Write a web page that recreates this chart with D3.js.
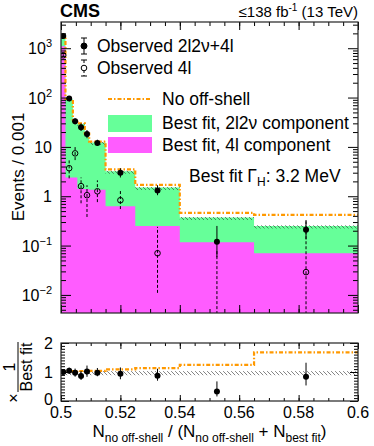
<!DOCTYPE html>
<html>
<head>
<meta charset="utf-8">
<script src="https://cdn.jsdelivr.net/npm/d3@7"></script>
<style>
  body { margin: 0; background: #fff; }
  svg text { font-family: "Liberation Sans", Arial, Helvetica, sans-serif; fill: #000; }
</style>
</head>
<body>
<svg id="chart" width="374" height="446"></svg>
<script>
// bin edges of N_no off-shell / (N_no off-shell + N_best fit)
const binEdges = [0.5, 0.5015, 0.504, 0.5055, 0.508, 0.5095, 0.515, 0.525, 0.54, 0.565, 0.6];

// stacked best fit (2l2v + 4l) and the 4l component alone
const bestFitTotal = [1760, 92, 34, 29, 18, 12.3, 3.2, 1.5, 0.37, 0.25];
const bestFit4l = [1100, 2.4, 2.4, 1.4, 1.4, 1.35, 0.63, 0.25, 0.117, 0.07];
// no off-shell hypothesis
const noOffShell = [1780, 94, 35, 30, 18.6, 12.8, 3.5, 1.7, 0.46, 0.42];
// relative uncertainty band on the best fit
const bandLo = 0.89, bandHi = 1.03;

// observed 2l2v+4l
const obsAll = [1760, 96, 33, 25, 18.3, 12, 3.0, 1.3, 0.12, 0.21];
const obsAllLo = [1700, 87, 28.5, 21, 15, 10.5, 2.4, 1.05, 0.058, 0.134];
const obsAllHi = [1830, 106, 38, 30, 22, 14, 3.7, 1.67, 0.25, 0.33];
// observed 4l
const obs4l = [720, 3.7, 7.4, 1.6, 1.05, 1.26, 0.83, 0.07, 0.0005, 0.029];
const obs4lLo = [660, 2.3, 5.4, 0.72, 0.38, 0.76, 0.55, 0.011, 0.0005, 0.001];
const obs4lHi = [790, 5.8, 10.3, 2.4, 1.67, 2.1, 1.3, 0.24, 0.08, 0.31];

const xMajor = [0.5, 0.52, 0.54, 0.56, 0.58, 0.6];
const yDecades = [0.01, 0.1, 1, 10, 100, 1000];
const ratioTicks = [0, 1, 2];

const green = "#66ff99", magenta = "#ff5cff", orange = "#ff9900";

const svg = d3.select("#chart");
const x = d3.scaleLinear().domain([0.5, 0.6]).range([61, 358]);
const y = d3.scaleLog().domain([0.0043, 3400]).range([313, 22]);
const yr = d3.scaleLinear().domain([0, 2]).range([401, 343]);

const centers = binEdges.slice(0, -1).map((e, i) => (e + binEdges[i + 1]) / 2);
const steps = vals => binEdges.map((e, i) => [e, vals[Math.min(i, vals.length - 1)]]);

const defs = svg.append("defs");
defs.append("clipPath").attr("id", "clipMain")
  .append("rect").attr("x", 61).attr("y", 22).attr("width", 297).attr("height", 291);
defs.append("clipPath").attr("id", "clipRatio")
  .append("rect").attr("x", 61).attr("y", 343).attr("width", 297).attr("height", 58);
const pat = defs.append("pattern").attr("id", "hatch")
  .attr("patternUnits", "userSpaceOnUse").attr("width", 4).attr("height", 4);
pat.append("path").attr("d", "M0,0L4,4M-1,3L1,5M3,-1L5,1")
  .attr("stroke", "#333").attr("stroke-width", 0.6);

// ---------- main panel ----------
const main = svg.append("g").attr("clip-path", "url(#clipMain)");

const stepArea = d3.area().curve(d3.curveStepAfter)
  .x(d => x(d[0])).y0(313).y1(d => y(d[1]));

main.append("path").datum(steps(bestFitTotal)).attr("d", stepArea).attr("fill", green);
main.append("path").datum(steps(bestFit4l)).attr("d", stepArea).attr("fill", magenta);

const bandArea = d3.area().curve(d3.curveStepAfter)
  .x(d => x(d[0])).y0(d => y(d[1] * bandLo)).y1(d => y(d[1] * bandHi));
main.append("path").datum(steps(bestFitTotal)).attr("d", bandArea).attr("fill", "url(#hatch)");

const stepLine = d3.line().curve(d3.curveStepAfter).x(d => x(d[0])).y(d => y(d[1]));
main.append("path").datum(steps(noOffShell)).attr("d", stepLine)
  .attr("fill", "none").attr("stroke", orange).attr("stroke-width", 2.2)
  .attr("stroke-dasharray", "4,2,1.5,2");

// observed 4l (open markers, dashed bars)
main.selectAll(".e4l").data(centers).enter().append("line")
  .attr("x1", d => x(d)).attr("x2", d => x(d))
  .attr("y1", (d, i) => y(obs4lLo[i])).attr("y2", (d, i) => y(obs4lHi[i]))
  .attr("stroke", "#000").attr("stroke-width", 1).attr("stroke-dasharray", "3,2");
main.selectAll(".p4l").data(centers).enter().append("circle")
  .attr("cx", d => x(d)).attr("cy", (d, i) => y(obs4l[i])).attr("r", 2.8)
  .attr("fill", "none").attr("stroke", "#000").attr("stroke-width", 1);

// observed 2l2v+4l
main.selectAll(".eall").data(centers).enter().append("line")
  .attr("x1", d => x(d)).attr("x2", d => x(d))
  .attr("y1", (d, i) => y(obsAllLo[i])).attr("y2", (d, i) => y(obsAllHi[i]))
  .attr("stroke", "#000").attr("stroke-width", 1);
main.selectAll(".pall").data(centers).enter().append("circle")
  .attr("cx", d => x(d)).attr("cy", (d, i) => y(obsAll[i])).attr("r", 3)
  .attr("fill", "#000");

// ---------- ratio panel ----------
const ratio = svg.append("g").attr("clip-path", "url(#clipRatio)");
ratio.append("rect").attr("x", x(0.5)).attr("width", x(0.6) - x(0.5))
  .attr("y", yr(bandHi)).attr("height", yr(bandLo) - yr(bandHi)).attr("fill", "url(#hatch)");

const ratioLine = d3.line().curve(d3.curveStepAfter).x(d => x(d[0])).y(d => yr(d[1]));
ratio.append("path").datum(steps(noOffShell.map((v, i) => v / bestFitTotal[i])))
  .attr("d", ratioLine).attr("fill", "none").attr("stroke", orange)
  .attr("stroke-width", 2.2).attr("stroke-dasharray", "4,2,1.5,2");

ratio.selectAll(".er").data(centers).enter().append("line")
  .attr("x1", d => x(d)).attr("x2", d => x(d))
  .attr("y1", (d, i) => yr(obsAllLo[i] / bestFitTotal[i]))
  .attr("y2", (d, i) => yr(obsAllHi[i] / bestFitTotal[i]))
  .attr("stroke", "#000").attr("stroke-width", 1);
ratio.selectAll(".pr").data(centers).enter().append("circle")
  .attr("cx", d => x(d)).attr("cy", (d, i) => yr(obsAll[i] / bestFitTotal[i])).attr("r", 3)
  .attr("fill", "#000");

// ---------- axes ----------
function ticks(axis, tx, ty) {
  const g = svg.append("g").attr("transform", `translate(${tx},${ty})`).call(axis);
  g.select(".domain").remove();
  g.selectAll("text").remove();
  g.selectAll("line").attr("stroke", "#000");
  return g;
}
const xMinor = d3.range(0, 21).map(i => 0.5 + i * 0.005);
const yMinor = [];
[0.001, 0.01, 0.1, 1, 10, 100, 1000].forEach(d => {
  for (let k = 2; k <= 9; k++) if (d * k > 0.0043 && d * k < 3400) yMinor.push(d * k);
});
const rMinor = d3.range(0, 21).map(i => i * 0.1);

// main panel ticks
ticks(d3.axisBottom(x).tickValues(xMajor).tickSize(-8), 0, 313);
ticks(d3.axisBottom(x).tickValues(xMinor).tickSize(-4), 0, 313);
ticks(d3.axisTop(x).tickValues(xMajor).tickSize(-8), 0, 22);
ticks(d3.axisTop(x).tickValues(xMinor).tickSize(-4), 0, 22);
ticks(d3.axisLeft(y).tickValues(yDecades).tickSize(-10), 61, 0);
ticks(d3.axisLeft(y).tickValues(yMinor).tickSize(-5), 61, 0);
ticks(d3.axisRight(y).tickValues(yDecades).tickSize(-10), 358, 0);
ticks(d3.axisRight(y).tickValues(yMinor).tickSize(-5), 358, 0);

// ratio panel ticks
ticks(d3.axisBottom(x).tickValues(xMajor).tickSize(-6), 0, 401);
ticks(d3.axisBottom(x).tickValues(xMinor).tickSize(-3), 0, 401);
ticks(d3.axisTop(x).tickValues(xMajor).tickSize(-6), 0, 343);
ticks(d3.axisTop(x).tickValues(xMinor).tickSize(-3), 0, 343);
ticks(d3.axisLeft(yr).tickValues(ratioTicks).tickSize(-8), 61, 0);
ticks(d3.axisLeft(yr).tickValues(rMinor).tickSize(-4), 61, 0);
ticks(d3.axisRight(yr).tickValues(ratioTicks).tickSize(-8), 358, 0);
ticks(d3.axisRight(yr).tickValues(rMinor).tickSize(-4), 358, 0);

// frames
svg.append("rect").attr("x", 61).attr("y", 22).attr("width", 297).attr("height", 291)
  .attr("fill", "none").attr("stroke", "#222").attr("stroke-width", 1.2);
svg.append("rect").attr("x", 61).attr("y", 343).attr("width", 297).attr("height", 58)
  .attr("fill", "none").attr("stroke", "#222").attr("stroke-width", 1.2);

// y tick labels (main)
yDecades.forEach(d => {
  const e = Math.round(Math.log10(d));
  const t = svg.append("text").attr("x", 52).attr("y", y(d) + 6)
    .attr("text-anchor", "end").attr("font-size", 16);
  if (e === 0) t.text("1");
  else if (e === 1) t.text("10");
  else {
    t.append("tspan").text("10");
    t.append("tspan").attr("dy", -7).attr("font-size", 11).text(e < 0 ? "\u2212" + (-e) : e);
  }
});
// ratio y labels
ratioTicks.forEach(d => {
  svg.append("text").attr("x", 53).attr("y", yr(d) + (d === 0 ? 4 : 6))
    .attr("text-anchor", "end").attr("font-size", 16).text(d);
});
// x labels
xMajor.forEach(d => {
  svg.append("text").attr("x", x(d)).attr("y", 418)
    .attr("text-anchor", "middle").attr("font-size", 16).text(String(+d.toFixed(2)));
});

// axis titles
svg.append("text").attr("transform", "translate(24,167) rotate(-90)")
  .attr("text-anchor", "middle").attr("font-size", 17).text("Events / 0.001");

const xt = svg.append("text").attr("x", 209.5).attr("y", 437)
  .attr("text-anchor", "middle").attr("font-size", 17);
xt.append("tspan").text("N");
xt.append("tspan").attr("dy", 5).attr("font-size", 12).text("no off-shell");
xt.append("tspan").attr("dy", -5).text(" / (N");
xt.append("tspan").attr("dy", 5).attr("font-size", 12).text("no off-shell");
xt.append("tspan").attr("dy", -5).text(" + N");
xt.append("tspan").attr("dy", 5).attr("font-size", 12).text("best fit");
xt.append("tspan").attr("dy", -5).text(")");

const rt = svg.append("g").attr("transform", "translate(19,367) rotate(-90)");
rt.append("text").attr("x", 0).attr("y", 13).attr("text-anchor", "middle")
  .attr("font-size", 16).text("Best fit");
rt.append("line").attr("x1", -25).attr("x2", 25).attr("y1", -1).attr("y2", -1)
  .attr("stroke", "#000").attr("stroke-width", 1);
rt.append("text").attr("x", 0).attr("y", -4).attr("text-anchor", "middle")
  .attr("font-size", 16).text("1");
rt.append("text").attr("x", -31).attr("y", 0).attr("text-anchor", "middle")
  .attr("font-size", 16).text("\u00d7");

// header
svg.append("text").attr("x", 60).attr("y", 17).attr("font-size", 18)
  .attr("font-weight", "bold").text("CMS");
const lumi = svg.append("text").attr("x", 358).attr("y", 17)
  .attr("text-anchor", "end").attr("font-size", 15);
lumi.append("tspan").text("\u2264138 fb");
lumi.append("tspan").attr("dy", -6).attr("font-size", 10).text("-1");
lumi.append("tspan").attr("dy", 6).text(" (13 TeV)");

// legend
const leg = svg.append("g");
[[46, false, "Observed 2l2\u03bd+4l"], [68, true, "Observed 4l"]].forEach(([ly, open, label]) => {
  leg.append("line").attr("x1", 84).attr("x2", 84).attr("y1", ly - 8).attr("y2", ly + 8)
    .attr("stroke", "#000").attr("stroke-dasharray", open ? "3,2" : null);
  [ly - 8, ly + 8].forEach(cy => leg.append("line").attr("x1", 81).attr("x2", 87)
    .attr("y1", cy).attr("y2", cy).attr("stroke", "#000"));
  leg.append("circle").attr("cx", 84).attr("cy", ly).attr("r", open ? 2.8 : 3)
    .attr("fill", open ? "#fff" : "#000").attr("stroke", "#000");
  leg.append("text").attr("x", 97).attr("y", ly + 6).attr("font-size", 17.5).text(label);
});
leg.append("line").attr("x1", 108).attr("x2", 152).attr("y1", 99).attr("y2", 99)
  .attr("stroke", orange).attr("stroke-width", 2.2).attr("stroke-dasharray", "4,2,1.5,2");
leg.append("text").attr("x", 162).attr("y", 105).attr("font-size", 17.5).text("No off-shell");
leg.append("rect").attr("x", 108).attr("y", 115).attr("width", 44).attr("height", 17).attr("fill", green);
leg.append("text").attr("x", 162).attr("y", 129).attr("font-size", 17.5)
  .text("Best fit, 2l2\u03bd component");
leg.append("rect").attr("x", 108).attr("y", 137).attr("width", 44).attr("height", 16).attr("fill", magenta);
leg.append("text").attr("x", 162).attr("y", 151).attr("font-size", 17.5)
  .text("Best fit, 4l component");

const gt = svg.append("text").attr("x", 189).attr("y", 182).attr("font-size", 17.5);
gt.append("tspan").text("Best fit \u0393");
gt.append("tspan").attr("dy", 4).attr("font-size", 12).text("H");
gt.append("tspan").attr("dy", -4).text(": 3.2 MeV");
</script>
</body>
</html>
